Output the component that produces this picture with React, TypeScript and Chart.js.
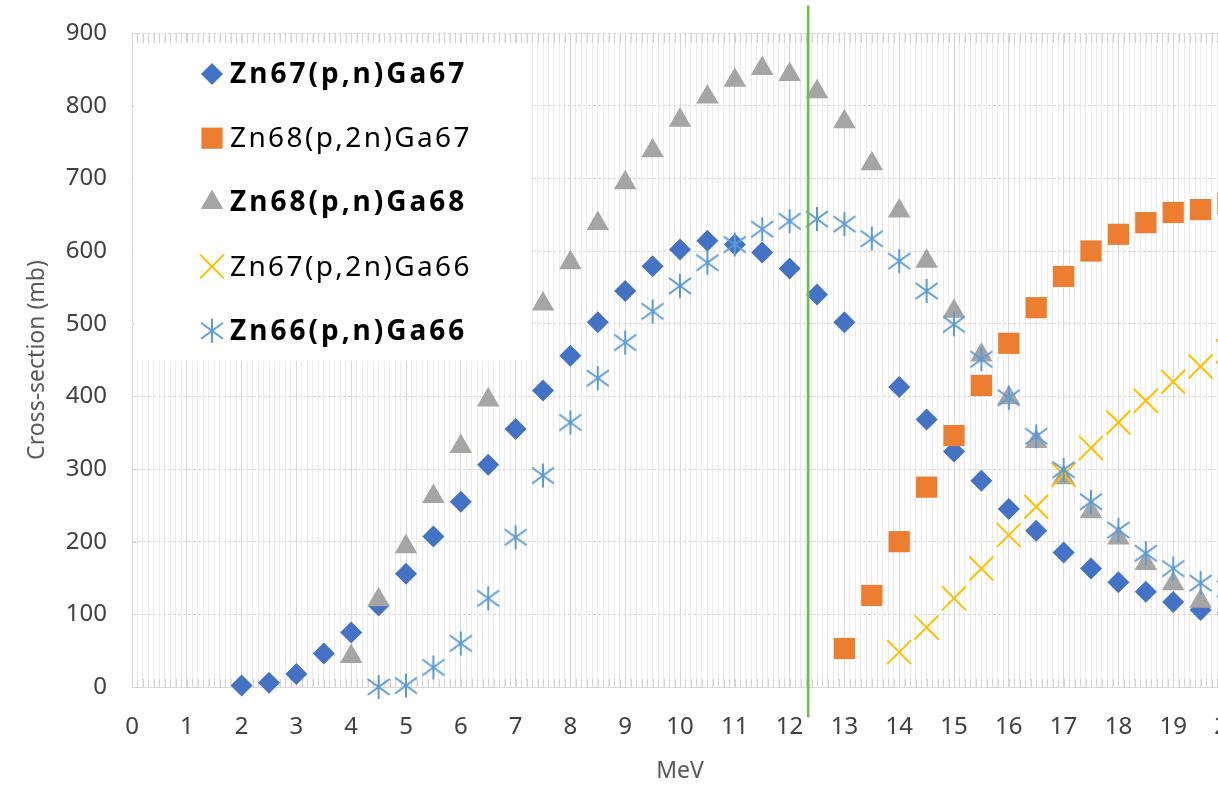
import React, { useEffect, useRef } from 'react';
import { Chart, registerables } from 'chart.js';
import { drawPoint } from 'chart.js/helpers';

Chart.register(...registerables);

// ---------------- data ----------------
const seriesLabels = [
  'Zn67(p,n)Ga67',
  'Zn68(p,2n)Ga67',
  'Zn68(p,n)Ga68',
  'Zn67(p,2n)Ga66',
  'Zn66(p,n)Ga66',
];

const energyZn67pnGa67 = [2, 2.5, 3, 3.5, 4, 4.5, 5, 5.5, 6, 6.5, 7, 7.5, 8, 8.5, 9, 9.5, 10, 10.5, 11, 11.5, 12, 12.5, 13, 14, 14.5, 15, 15.5, 16, 16.5, 17, 17.5, 18, 18.5, 19, 19.5, 20];
const xsZn67pnGa67 = [2, 6, 18, 46, 75, 112, 156, 207, 255, 306, 355, 408, 456, 502, 545, 579, 602, 614, 609, 598, 576, 540, 502, 413, 368, 324, 284, 245, 215, 185, 163, 144, 131, 117, 106, 102];

const energyZn68p2nGa67 = [13, 13.5, 14, 14.5, 15, 15.5, 16, 16.5, 17, 17.5, 18, 18.5, 19, 19.5, 20];
const xsZn68p2nGa67 = [53, 126, 200, 275, 346, 415, 473, 522, 565, 600, 623, 639, 653, 657, 665];

const energyZn68pnGa68 = [4, 4.5, 5, 5.5, 6, 6.5, 7, 7.5, 8, 8.5, 9, 9.5, 10, 10.5, 11, 11.5, 12, 12.5, 13, 13.5, 14, 14.5, 15, 15.5, 16, 16.5, 17, 17.5, 18, 18.5, 19, 19.5, 20];
const xsZn68pnGa68 = [42, 120, 193, 262, 331, 395, 462, 527, 584, 638, 694, 738, 780, 812, 835, 851, 843, 819, 778, 720, 655, 586, 517, 457, 398, 338, 288, 241, 205, 170, 142, 118, 108];

const energyZn67p2nGa66 = [14, 14.5, 15, 15.5, 16, 16.5, 17, 17.5, 18, 18.5, 19, 19.5, 20];
const xsZn67p2nGa66 = [48, 82, 122, 163, 209, 248, 292, 329, 364, 394, 420, 441, 462];

const energyZn66pnGa66 = [4.5, 5, 5.5, 6, 6.5, 7, 7.5, 8, 8.5, 9, 9.5, 10, 10.5, 11, 11.5, 12, 12.5, 13, 13.5, 14, 14.5, 15, 15.5, 16, 16.5, 17, 17.5, 18, 18.5, 19, 19.5, 20];
const xsZn66pnGa66 = [0, 2, 27, 60, 122, 206, 291, 364, 425, 474, 517, 552, 584, 609, 630, 641, 644, 637, 617, 586, 545, 499, 451, 398, 345, 299, 255, 216, 184, 163, 143, 135];

const markerLineEnergy = [12.34, 12.34];
const markerLineValues = [-42, 938];

const xAxisMin = 0;
const xAxisMax = 20;
const xMinorStep = 0.1;
const yAxisMin = 0;
const yAxisMax = 900;
const yAxisStep = 100;

const xAxisTitle = 'MeV';
const yAxisTitle = 'Cross-section (mb)';

// ---------------- styles ----------------
const FONT = "'Noto Sans', 'DejaVu Sans', sans-serif";
const COLORS = ['#4472C4', '#ED7D31', '#A5A5A5', '#FFC000', '#5B9BD5'];
const LEGEND_BOLD = [true, false, true, false, true];

function makeStar(color: string): HTMLCanvasElement {
  const c = document.createElement('canvas');
  c.width = 26;
  c.height = 26;
  const g = c.getContext('2d')!;
  g.strokeStyle = color;
  g.lineWidth = 2;
  g.beginPath();
  g.moveTo(13, 1);
  g.lineTo(13, 25);
  g.moveTo(2, 5);
  g.lineTo(24, 21);
  g.moveTo(2, 21);
  g.lineTo(24, 5);
  g.stroke();
  return c;
}

const pts = (xs: number[], ys: number[]) => xs.map((x, i) => ({ x, y: ys[i] }));
const isInt = (v: number) => Math.abs(v - Math.round(v)) < 1e-6;

export default function App() {
  const ref = useRef<HTMLCanvasElement>(null);

  useEffect(() => {
    const star = makeStar(COLORS[4]);
    const markerStyles: any[] = [
      { pointStyle: 'rectRot', radius: 11, fill: COLORS[0], stroke: COLORS[0], bw: 0 },
      { pointStyle: 'rect', radius: 15, fill: COLORS[1], stroke: COLORS[1], bw: 0 },
      { pointStyle: 'triangle', radius: 13, fill: COLORS[2], stroke: COLORS[2], bw: 0 },
      { pointStyle: 'crossRot', radius: 17, fill: 'rgba(0,0,0,0)', stroke: COLORS[3], bw: 2 },
      { pointStyle: star, radius: 13, fill: COLORS[4], stroke: COLORS[4], bw: 0 },
    ];

    const seriesData = [
      pts(energyZn67pnGa67, xsZn67pnGa67),
      pts(energyZn68p2nGa67, xsZn68p2nGa67),
      pts(energyZn68pnGa68, xsZn68pnGa68),
      pts(energyZn67p2nGa66, xsZn67p2nGa66),
      pts(energyZn66pnGa66, xsZn66pnGa66),
    ];

    const datasets: any[] = seriesData.map((d, i) => ({
      label: seriesLabels[i],
      data: d,
      showLine: false,
      clip: false,
      order: 5 - i,
      pointStyle: markerStyles[i].pointStyle,
      pointRadius: markerStyles[i].radius,
      pointHoverRadius: markerStyles[i].radius,
      pointBackgroundColor: markerStyles[i].fill,
      pointBorderColor: markerStyles[i].stroke,
      pointBorderWidth: markerStyles[i].bw,
      backgroundColor: markerStyles[i].fill,
      borderColor: markerStyles[i].stroke,
    }));

    datasets.push({
      label: 'marker',
      data: pts(markerLineEnergy, markerLineValues),
      showLine: true,
      clip: false,
      order: -1,
      pointRadius: 0,
      borderColor: '#6DBE45',
      borderWidth: 2.5,
    });

    const overlay = {
      id: 'overlay',
      beforeDatasetsDraw(chart: any) {
        const { ctx, chartArea: a, scales } = chart;
        const x = scales.x;
        const y = scales.y;
        ctx.save();
        ctx.strokeStyle = '#d3d3d3';
        ctx.lineWidth = 1;
        ctx.beginPath();
        const n = Math.round((xAxisMax - xAxisMin) / xMinorStep);
        for (let i = 0; i <= n; i++) {
          const px = Math.round(x.getPixelForValue(xAxisMin + i * xMinorStep)) + 0.5;
          ctx.moveTo(px, a.bottom);
          ctx.lineTo(px, a.bottom - 8);
          ctx.moveTo(px, a.top);
          ctx.lineTo(px, a.top + 10);
        }
        for (let v = yAxisMin; v <= yAxisMax; v += yAxisStep) {
          const py = Math.round(y.getPixelForValue(v)) + 0.5;
          ctx.moveTo(a.left, py);
          ctx.lineTo(a.left + 5, py);
        }
        ctx.stroke();
        ctx.restore();
      },
      afterDatasetsDraw(chart: any) {
        const { ctx } = chart;
        ctx.save();
        ctx.fillStyle = '#ffffff';
        ctx.fillRect(134, 43, 396, 318);
        for (let i = 0; i < seriesLabels.length; i++) {
          const base = 83 + i * 64.2;
          const cy = base - 9;
          const m = markerStyles[i];
          ctx.fillStyle = m.fill;
          ctx.strokeStyle = m.stroke;
          ctx.lineWidth = m.bw;
          drawPoint(ctx, { pointStyle: m.pointStyle, radius: m.radius, rotation: 0, borderWidth: m.bw }, 212, cy);
          ctx.fillStyle = '#000000';
          ctx.textBaseline = 'alphabetic';
          ctx.textAlign = 'left';
          ctx.font = `${LEGEND_BOLD[i] ? 'bold ' : ''}28px ${FONT}`;
          (ctx as any).letterSpacing = LEGEND_BOLD[i] ? '3px' : '2.4px';
          ctx.fillText(seriesLabels[i], 230, base);
          (ctx as any).letterSpacing = '0px';
        }
        ctx.restore();
      },
    };

    const chart = new Chart(ref.current!, {
      type: 'scatter',
      data: { datasets },
      options: {
        animation: false,
        responsive: false,
        events: [],
        layout: { padding: { top: 33, right: 12, left: 0, bottom: 0 }, autoPadding: false },
        plugins: { legend: { display: false }, tooltip: { enabled: false } },
        scales: {
          x: {
            type: 'linear',
            min: xAxisMin,
            max: xAxisMax,
            ticks: {
              stepSize: xMinorStep,
              autoSkip: false,
              maxRotation: 0,
              minRotation: 0,
              padding: 26,
              color: '#404040',
              font: { family: FONT, size: 24 },
              callback: (v: any) => (isInt(Number(v)) ? String(Math.round(Number(v))) : ''),
            },
            grid: {
              drawTicks: false,
              color: (c: any) => (c.tick && isInt(c.tick.value) ? '#d9d9d9' : '#ebebeb'),
              lineWidth: 1,
            },
            border: { display: true, color: '#d9d9d9' },
            title: {
              display: true,
              text: xAxisTitle,
              color: '#595959',
              font: { family: FONT, size: 23 },
              padding: { top: 0, bottom: 6 },
            },
            afterFit: (s: any) => {
              s.height = 104;
              s.paddingLeft = 0;
              s.paddingRight = 0;
            },
          },
          y: {
            type: 'linear',
            min: yAxisMin,
            max: yAxisMax,
            ticks: {
              stepSize: yAxisStep,
              padding: 25,
              color: '#404040',
              font: { family: FONT, size: 24 },
            },
            grid: { drawTicks: false, color: '#d9d9d9', lineWidth: 1 },
            border: { display: true, color: '#d9d9d9', dash: [3, 2] },
            title: {
              display: true,
              text: yAxisTitle,
              color: '#595959',
              font: { family: FONT, size: 23 },
              padding: { top: 24, bottom: 0 },
            },
            afterFit: (s: any) => {
              s.width = 132;
              s.paddingTop = 0;
              s.paddingBottom = 0;
            },
          },
        },
      },
      plugins: [overlay],
    } as any);

    return () => chart.destroy();
  }, []);

  return (
    <div
      style={{
        position: 'fixed',
        left: 0,
        top: 0,
        width: 1218,
        height: 791,
        overflow: 'hidden',
        background: '#ffffff',
      }}
    >
      <canvas ref={ref} width={1240} height={791} style={{ display: 'block', width: 1240, height: 791 }} />
    </div>
  );
}
